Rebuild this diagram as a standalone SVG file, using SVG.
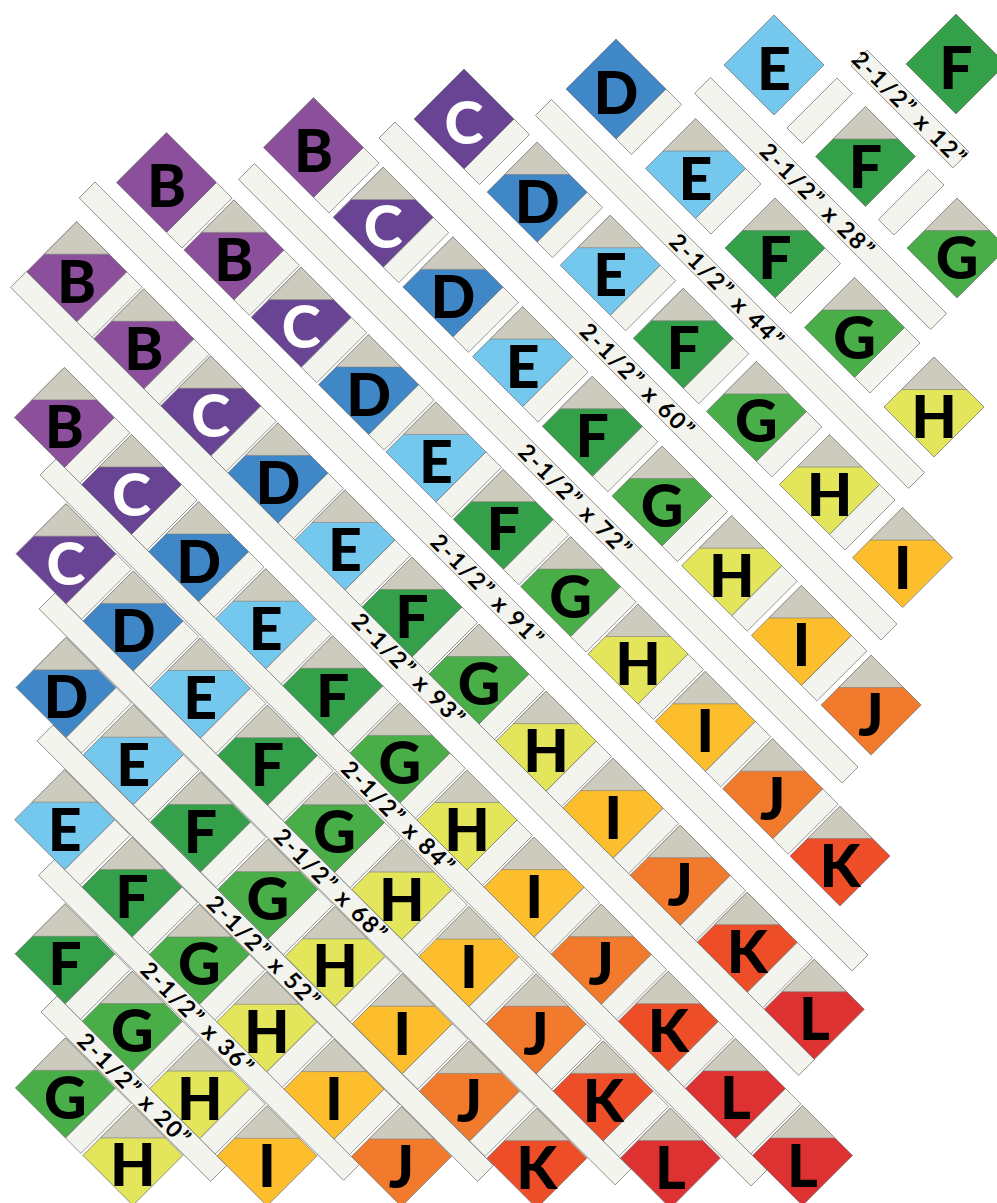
<svg xmlns="http://www.w3.org/2000/svg" xmlns:xlink="http://www.w3.org/1999/xlink" width="997" height="1203" viewBox="0 0 997 1203">
<style>
.t{font-family:Lato,"Liberation Sans",sans-serif;font-weight:900;font-size:59px;text-anchor:middle;fill:#000}
.w{fill:#fff}
.B{fill:#8C4F9C}.C{fill:#6A4494}.D{fill:#3F87C7}.E{fill:#74C8EE}.F{fill:#35A04A}.G{fill:#49AD48}
.H{fill:#E3E55A}.I{fill:#FCBE2C}.J{fill:#F27A2C}.K{fill:#EE4E27}.L{fill:#DE3232}
.st{fill:#F4F4EE;stroke:#808080;stroke-width:.8}
.lb{font-family:Lato,"Liberation Sans",sans-serif;font-weight:700;font-size:23px;text-anchor:middle;fill:#000}
</style>
<defs>
<path id="dm" d="M0-50L50 0L0 50L-50 0Z" stroke="#7a7a7a" stroke-width=".8"/>
<path id="gt" d="M0-50L32.5-17.5H-32.5Z" fill="#CDCBBD" stroke="#7a7a7a" stroke-width=".6"/>
<path id="ss" d="M50 0L65.5 15.5L15.5 65.5L0 50Z" fill="#F4F4EE" stroke="#808080" stroke-width=".8"/>
</defs>
<rect width="997" height="1203" fill="#fff"/>
<g id="strips" transform="rotate(45)">
<rect class="st" x="648.4" y="-577.7" width="144.2" height="22.5"/>
<rect class="st" x="557.2" y="-447.6" width="333.8" height="22.5"/>
<rect class="st" x="460.3" y="-319.6" width="527.5" height="22.5"/>
<rect class="st" x="365.6" y="-193.0" width="709.9" height="22.5"/>
<rect class="st" x="295.6" y="-64.3" width="853.5" height="22.5"/>
<rect class="st" x="195.9" y="61.5" width="1093.2" height="22.5"/>
<rect class="st" x="210.7" y="173.2" width="1114.4" height="22.5"/>
<rect class="st" x="364.2" y="285.0" width="1005.5" height="22.5"/>
<rect class="st" x="458.2" y="380.4" width="814.6" height="22.5"/>
<rect class="st" x="550.1" y="475.2" width="623.0" height="22.5"/>
<rect class="st" x="646.3" y="569.2" width="431.3" height="22.5"/>
<rect class="st" x="744.6" y="664.0" width="239.7" height="22.5"/>
<text class="lb" x="719.1" y="-558.2" textLength="150" lengthAdjust="spacing">2-1/2” x 12”</text>
<text class="lb" x="719.1" y="-428.1" textLength="150" lengthAdjust="spacing">2-1/2” x 28”</text>
<text class="lb" x="719.1" y="-300.1" textLength="150" lengthAdjust="spacing">2-1/2” x 44”</text>
<text class="lb" x="719.1" y="-173.5" textLength="150" lengthAdjust="spacing">2-1/2” x 60”</text>
<text class="lb" x="760.1" y="-44.8" textLength="148" lengthAdjust="spacing">2-1/2” x 72”</text>
<text class="lb" x="761.6" y="81.0" textLength="148" lengthAdjust="spacing">2-1/2” x 91”</text>
<text class="lb" x="761.9" y="192.7" textLength="148" lengthAdjust="spacing">2-1/2” x 93”</text>
<text class="lb" x="859.1" y="304.5" textLength="148" lengthAdjust="spacing">2-1/2” x 84”</text>
<text class="lb" x="859.1" y="399.9" textLength="148" lengthAdjust="spacing">2-1/2” x 68”</text>
<text class="lb" x="859.1" y="494.7" textLength="148" lengthAdjust="spacing">2-1/2” x 52”</text>
<text class="lb" x="859.1" y="588.7" textLength="148" lengthAdjust="spacing">2-1/2” x 36”</text>
<text class="lb" x="864.8" y="683.5" textLength="148" lengthAdjust="spacing">2-1/2” x 20”</text>
</g>
<g id="row1">
<g id="r1-1" transform="translate(956 64)"><use href="#dm" class="F"/><text class="t" y="24.5">F</text></g>
</g>
<g id="row2">
<g id="r2-1" transform="translate(774 65)"><use href="#ss" x="13" y="13"/><use href="#dm" class="E"/><text class="t" y="24.5">E</text></g>
<g id="r2-2" transform="translate(865.5 156.5)"><use href="#ss" x="13" y="13"/><use href="#dm" class="F"/><use href="#gt"/><text class="t" y="31">F</text></g>
<g id="r2-3" transform="translate(957 248)"><use href="#dm" class="G"/><use href="#gt"/><text class="t" y="31">G</text></g>
</g>
<g id="row3">
<g id="r3-1" transform="translate(616 89)"><use href="#ss"/><use href="#dm" class="D"/><text class="t" y="24.5">D</text></g>
<g id="r3-2" transform="translate(695.5 168.5)"><use href="#ss"/><use href="#dm" class="E"/><use href="#gt"/><text class="t" y="31">E</text></g>
<g id="r3-3" transform="translate(775 248)"><use href="#ss"/><use href="#dm" class="F"/><use href="#gt"/><text class="t" y="31">F</text></g>
<g id="r3-4" transform="translate(854.5 327.5)"><use href="#ss"/><use href="#dm" class="G"/><use href="#gt"/><text class="t" y="31">G</text></g>
<g id="r3-5" transform="translate(934 407)"><use href="#dm" class="H"/><use href="#gt"/><text class="t" y="31">H</text></g>
</g>
<g id="row4">
<g id="r4-1" transform="translate(464 119)"><use href="#ss"/><use href="#dm" class="C"/><text class="t w" y="24.5">C</text></g>
<g id="r4-2" transform="translate(537.1 192.1)"><use href="#ss"/><use href="#dm" class="D"/><use href="#gt"/><text class="t" y="31">D</text></g>
<g id="r4-3" transform="translate(610.2 265.2)"><use href="#ss"/><use href="#dm" class="E"/><use href="#gt"/><text class="t" y="31">E</text></g>
<g id="r4-4" transform="translate(683.3 338.3)"><use href="#ss"/><use href="#dm" class="F"/><use href="#gt"/><text class="t" y="31">F</text></g>
<g id="r4-5" transform="translate(756.4 411.4)"><use href="#ss"/><use href="#dm" class="G"/><use href="#gt"/><text class="t" y="31">G</text></g>
<g id="r4-6" transform="translate(829.5 484.5)"><use href="#ss"/><use href="#dm" class="H"/><use href="#gt"/><text class="t" y="31">H</text></g>
<g id="r4-7" transform="translate(902.6 557.6)"><use href="#dm" class="I"/><use href="#gt"/><text class="t" y="31">I</text></g>
</g>
<g id="row5">
<g id="r5-1" transform="translate(313.5 147.5)"><use href="#ss"/><use href="#dm" class="B"/><text class="t" y="24.5">B</text></g>
<g id="r5-2" transform="translate(383.2 217.2)"><use href="#ss"/><use href="#dm" class="C"/><use href="#gt"/><text class="t w" y="31">C</text></g>
<g id="r5-3" transform="translate(452.9 286.9)"><use href="#ss"/><use href="#dm" class="D"/><use href="#gt"/><text class="t" y="31">D</text></g>
<g id="r5-4" transform="translate(522.6 356.6)"><use href="#ss"/><use href="#dm" class="E"/><use href="#gt"/><text class="t" y="31">E</text></g>
<g id="r5-5" transform="translate(592.3 426.3)"><use href="#ss"/><use href="#dm" class="F"/><use href="#gt"/><text class="t" y="31">F</text></g>
<g id="r5-6" transform="translate(662 496)"><use href="#ss"/><use href="#dm" class="G"/><use href="#gt"/><text class="t" y="31">G</text></g>
<g id="r5-7" transform="translate(731.7 565.7)"><use href="#ss"/><use href="#dm" class="H"/><use href="#gt"/><text class="t" y="31">H</text></g>
<g id="r5-8" transform="translate(801.4 635.4)"><use href="#ss"/><use href="#dm" class="I"/><use href="#gt"/><text class="t" y="31">I</text></g>
<g id="r5-9" transform="translate(871.1 705.1)"><use href="#dm" class="J"/><use href="#gt"/><text class="t" y="31">J</text></g>
</g>
<g id="row6">
<g id="r6-1" transform="translate(166.5 182.5)"><use href="#ss"/><use href="#dm" class="B"/><text class="t" y="24.5">B</text></g>
<g id="r6-2" transform="translate(233.9 249.9)"><use href="#ss"/><use href="#dm" class="B"/><use href="#gt"/><text class="t" y="31">B</text></g>
<g id="r6-3" transform="translate(301.2 317.2)"><use href="#ss"/><use href="#dm" class="C"/><use href="#gt"/><text class="t w" y="31">C</text></g>
<g id="r6-4" transform="translate(368.6 384.6)"><use href="#ss"/><use href="#dm" class="D"/><use href="#gt"/><text class="t" y="31">D</text></g>
<g id="r6-5" transform="translate(435.9 451.9)"><use href="#ss"/><use href="#dm" class="E"/><use href="#gt"/><text class="t" y="31">E</text></g>
<g id="r6-6" transform="translate(503.3 519.3)"><use href="#ss"/><use href="#dm" class="F"/><use href="#gt"/><text class="t" y="31">F</text></g>
<g id="r6-7" transform="translate(570.6 586.6)"><use href="#ss"/><use href="#dm" class="G"/><use href="#gt"/><text class="t" y="31">G</text></g>
<g id="r6-8" transform="translate(638 654)"><use href="#ss"/><use href="#dm" class="H"/><use href="#gt"/><text class="t" y="31">H</text></g>
<g id="r6-9" transform="translate(705.3 721.3)"><use href="#ss"/><use href="#dm" class="I"/><use href="#gt"/><text class="t" y="31">I</text></g>
<g id="r6-10" transform="translate(772.7 788.7)"><use href="#ss"/><use href="#dm" class="J"/><use href="#gt"/><text class="t" y="31">J</text></g>
<g id="r6-11" transform="translate(840 856)"><use href="#dm" class="K"/><use href="#gt"/><text class="t" y="31">K</text></g>
</g>
<g id="row7">
<g id="r7-1" transform="translate(76.7 271.7)"><use href="#ss"/><use href="#dm" class="B"/><use href="#gt"/><text class="t" y="31">B</text></g>
<g id="r7-2" transform="translate(143.8 338.8)"><use href="#ss"/><use href="#dm" class="B"/><use href="#gt"/><text class="t" y="31">B</text></g>
<g id="r7-3" transform="translate(210.8 405.8)"><use href="#ss"/><use href="#dm" class="C"/><use href="#gt"/><text class="t w" y="31">C</text></g>
<g id="r7-4" transform="translate(277.9 472.9)"><use href="#ss"/><use href="#dm" class="D"/><use href="#gt"/><text class="t" y="31">D</text></g>
<g id="r7-5" transform="translate(344.9 539.9)"><use href="#ss"/><use href="#dm" class="E"/><use href="#gt"/><text class="t" y="31">E</text></g>
<g id="r7-6" transform="translate(412 607)"><use href="#ss"/><use href="#dm" class="F"/><use href="#gt"/><text class="t" y="31">F</text></g>
<g id="r7-7" transform="translate(479 674)"><use href="#ss"/><use href="#dm" class="G"/><use href="#gt"/><text class="t" y="31">G</text></g>
<g id="r7-8" transform="translate(546.1 741.1)"><use href="#ss"/><use href="#dm" class="H"/><use href="#gt"/><text class="t" y="31">H</text></g>
<g id="r7-9" transform="translate(613.1 808.1)"><use href="#ss"/><use href="#dm" class="I"/><use href="#gt"/><text class="t" y="31">I</text></g>
<g id="r7-10" transform="translate(680.2 875.2)"><use href="#ss"/><use href="#dm" class="J"/><use href="#gt"/><text class="t" y="31">J</text></g>
<g id="r7-11" transform="translate(747.2 942.2)"><use href="#ss"/><use href="#dm" class="K"/><use href="#gt"/><text class="t" y="31">K</text></g>
<g id="r7-12" transform="translate(814.3 1009.3)"><use href="#dm" class="L"/><use href="#gt"/><text class="t" y="31">L</text></g>
</g>
<g id="row8">
<g id="r8-1" transform="translate(64.4 417.4)"><use href="#ss"/><use href="#dm" class="B"/><use href="#gt"/><text class="t" y="31">B</text></g>
<g id="r8-2" transform="translate(131.5 484.5)"><use href="#ss"/><use href="#dm" class="C"/><use href="#gt"/><text class="t w" y="31">C</text></g>
<g id="r8-3" transform="translate(198.6 551.6)"><use href="#ss"/><use href="#dm" class="D"/><use href="#gt"/><text class="t" y="31">D</text></g>
<g id="r8-4" transform="translate(265.7 618.7)"><use href="#ss"/><use href="#dm" class="E"/><use href="#gt"/><text class="t" y="31">E</text></g>
<g id="r8-5" transform="translate(332.8 685.8)"><use href="#ss"/><use href="#dm" class="F"/><use href="#gt"/><text class="t" y="31">F</text></g>
<g id="r8-6" transform="translate(399.9 752.9)"><use href="#ss"/><use href="#dm" class="G"/><use href="#gt"/><text class="t" y="31">G</text></g>
<g id="r8-7" transform="translate(467 820)"><use href="#ss"/><use href="#dm" class="H"/><use href="#gt"/><text class="t" y="31">H</text></g>
<g id="r8-8" transform="translate(534.1 887.1)"><use href="#ss"/><use href="#dm" class="I"/><use href="#gt"/><text class="t" y="31">I</text></g>
<g id="r8-9" transform="translate(601.2 954.2)"><use href="#ss"/><use href="#dm" class="J"/><use href="#gt"/><text class="t" y="31">J</text></g>
<g id="r8-10" transform="translate(668.3 1021.3)"><use href="#ss"/><use href="#dm" class="K"/><use href="#gt"/><text class="t" y="31">K</text></g>
<g id="r8-11" transform="translate(735.4 1088.4)"><use href="#ss"/><use href="#dm" class="L"/><use href="#gt"/><text class="t" y="31">L</text></g>
<g id="r8-12" transform="translate(802.5 1155.5)"><use href="#dm" class="L"/><use href="#gt"/><text class="t" y="31">L</text></g>
</g>
<g id="row9">
<g id="r9-1" transform="translate(66 553.7)"><use href="#ss"/><use href="#dm" class="C"/><use href="#gt"/><text class="t w" y="31">C</text></g>
<g id="r9-2" transform="translate(133.2 620.9)"><use href="#ss"/><use href="#dm" class="D"/><use href="#gt"/><text class="t" y="31">D</text></g>
<g id="r9-3" transform="translate(200.3 688)"><use href="#ss"/><use href="#dm" class="E"/><use href="#gt"/><text class="t" y="31">E</text></g>
<g id="r9-4" transform="translate(267.5 755.2)"><use href="#ss"/><use href="#dm" class="F"/><use href="#gt"/><text class="t" y="31">F</text></g>
<g id="r9-5" transform="translate(334.6 822.3)"><use href="#ss"/><use href="#dm" class="G"/><use href="#gt"/><text class="t" y="31">G</text></g>
<g id="r9-6" transform="translate(401.8 889.5)"><use href="#ss"/><use href="#dm" class="H"/><use href="#gt"/><text class="t" y="31">H</text></g>
<g id="r9-7" transform="translate(468.9 956.6)"><use href="#ss"/><use href="#dm" class="I"/><use href="#gt"/><text class="t" y="31">I</text></g>
<g id="r9-8" transform="translate(536.1 1023.8)"><use href="#ss"/><use href="#dm" class="J"/><use href="#gt"/><text class="t" y="31">J</text></g>
<g id="r9-9" transform="translate(603.2 1090.9)"><use href="#ss"/><use href="#dm" class="K"/><use href="#gt"/><text class="t" y="31">K</text></g>
<g id="r9-10" transform="translate(670.4 1158.1)"><use href="#dm" class="L"/><use href="#gt"/><text class="t" y="31">L</text></g>
</g>
<g id="row10">
<g id="r10-1" transform="translate(66 687.4)"><use href="#ss"/><use href="#dm" class="D"/><use href="#gt"/><text class="t" y="31">D</text></g>
<g id="r10-2" transform="translate(133.3 754.7)"><use href="#ss"/><use href="#dm" class="E"/><use href="#gt"/><text class="t" y="31">E</text></g>
<g id="r10-3" transform="translate(200.5 821.9)"><use href="#ss"/><use href="#dm" class="F"/><use href="#gt"/><text class="t" y="31">F</text></g>
<g id="r10-4" transform="translate(267.8 889.2)"><use href="#ss"/><use href="#dm" class="G"/><use href="#gt"/><text class="t" y="31">G</text></g>
<g id="r10-5" transform="translate(335 956.4)"><use href="#ss"/><use href="#dm" class="H"/><use href="#gt"/><text class="t" y="31">H</text></g>
<g id="r10-6" transform="translate(402.3 1023.7)"><use href="#ss"/><use href="#dm" class="I"/><use href="#gt"/><text class="t" y="31">I</text></g>
<g id="r10-7" transform="translate(469.5 1090.9)"><use href="#ss"/><use href="#dm" class="J"/><use href="#gt"/><text class="t" y="31">J</text></g>
<g id="r10-8" transform="translate(536.8 1158.2)"><use href="#dm" class="K"/><use href="#gt"/><text class="t" y="31">K</text></g>
</g>
<g id="row11">
<g id="r11-1" transform="translate(64.6 819.7)"><use href="#ss"/><use href="#dm" class="E"/><use href="#gt"/><text class="t" y="31">E</text></g>
<g id="r11-2" transform="translate(132 887.1)"><use href="#ss"/><use href="#dm" class="F"/><use href="#gt"/><text class="t" y="31">F</text></g>
<g id="r11-3" transform="translate(199.3 954.4)"><use href="#ss"/><use href="#dm" class="G"/><use href="#gt"/><text class="t" y="31">G</text></g>
<g id="r11-4" transform="translate(266.7 1021.8)"><use href="#ss"/><use href="#dm" class="H"/><use href="#gt"/><text class="t" y="31">H</text></g>
<g id="r11-5" transform="translate(334 1089.1)"><use href="#ss"/><use href="#dm" class="I"/><use href="#gt"/><text class="t" y="31">I</text></g>
<g id="r11-6" transform="translate(401.4 1156.5)"><use href="#dm" class="J"/><use href="#gt"/><text class="t" y="31">J</text></g>
</g>
<g id="row12">
<g id="r12-1" transform="translate(65 953.8)"><use href="#ss"/><use href="#dm" class="F"/><use href="#gt"/><text class="t" y="31">F</text></g>
<g id="r12-2" transform="translate(132.3 1021.1)"><use href="#ss"/><use href="#dm" class="G"/><use href="#gt"/><text class="t" y="31">G</text></g>
<g id="r12-3" transform="translate(199.7 1088.5)"><use href="#ss"/><use href="#dm" class="H"/><use href="#gt"/><text class="t" y="31">H</text></g>
<g id="r12-4" transform="translate(267 1155.8)"><use href="#dm" class="I"/><use href="#gt"/><text class="t" y="31">I</text></g>
</g>
<g id="row13">
<g id="r13-1" transform="translate(65.4 1087.9)"><use href="#ss"/><use href="#dm" class="G"/><use href="#gt"/><text class="t" y="31">G</text></g>
<g id="r13-2" transform="translate(132.9 1155.4)"><use href="#dm" class="H"/><use href="#gt"/><text class="t" y="31">H</text></g>
</g>
</svg>
